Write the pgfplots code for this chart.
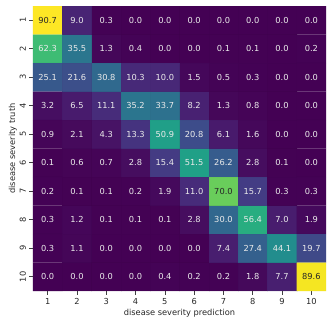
\documentclass[border=0pt]{standalone}
\usepackage{fontspec}
\setmainfont{DejaVu Sans}
\usepackage{pgfplots}
\usepackage{pgfplotstable}
\pgfplotsset{compat=1.18}

% confusion matrix in percent: x = prediction, y = truth
\pgfplotstableread{
x y v
1 1 90.7
2 1 9.0
3 1 0.3
4 1 0.0
5 1 0.0
6 1 0.0
7 1 0.0
8 1 0.0
9 1 0.0
10 1 0.0
1 2 62.3
2 2 35.5
3 2 1.3
4 2 0.4
5 2 0.0
6 2 0.0
7 2 0.1
8 2 0.1
9 2 0.0
10 2 0.2
1 3 25.1
2 3 21.6
3 3 30.8
4 3 10.3
5 3 10.0
6 3 1.5
7 3 0.5
8 3 0.3
9 3 0.0
10 3 0.0
1 4 3.2
2 4 6.5
3 4 11.1
4 4 35.2
5 4 33.7
6 4 8.2
7 4 1.3
8 4 0.8
9 4 0.0
10 4 0.0
1 5 0.9
2 5 2.1
3 5 4.3
4 5 13.3
5 5 50.9
6 5 20.8
7 5 6.1
8 5 1.6
9 5 0.0
10 5 0.0
1 6 0.1
2 6 0.6
3 6 0.7
4 6 2.8
5 6 15.4
6 6 51.5
7 6 26.2
8 6 2.8
9 6 0.1
10 6 0.0
1 7 0.2
2 7 0.1
3 7 0.1
4 7 0.2
5 7 1.9
6 7 11.0
7 7 70.0
8 7 15.7
9 7 0.3
10 7 0.3
1 8 0.3
2 8 1.2
3 8 0.1
4 8 0.1
5 8 0.1
6 8 2.8
7 8 30.0
8 8 56.4
9 8 7.0
10 8 1.9
1 9 0.3
2 9 1.1
3 9 0.0
4 9 0.0
5 9 0.0
6 9 0.0
7 9 7.4
8 9 27.4
9 9 44.1
10 9 19.7
1 10 0.0
2 10 0.0
3 10 0.0
4 10 0.0
5 10 0.4
6 10 0.2
7 10 0.2
8 10 1.8
9 10 7.7
10 10 89.6
}\cm

\newcommand{\sz}{\fontsize{8.3}{10}\selectfont}

\pgfplotsset{
    cell label/.style={
        only marks, mark=none, draw=none,
        point meta=explicit symbolic,
        nodes near coords, nodes near coords align=center,
        every node near coord/.append style={font=\sz, anchor=center, text=#1},
    },
}

\begin{document}
\begin{tikzpicture}
\begin{axis}[
    name=ax,
    scale only axis,
    width=293bp, height=285bp,
    xmin=0.5, xmax=10.5, ymin=0.5, ymax=10.5,
    enlargelimits=false,
    y dir=reverse,
    colormap/viridis,
    point meta min=0, point meta max=90.7,
    xtick={1,...,10}, ytick={1,...,10},
    xtick pos=bottom, ytick pos=left,
    tick align=outside,
    major tick length=3.5bp,
    tick style={color=black!75, line width=0.6pt},
    axis line style={draw=none},
    ticklabel style={font=\sz, text=black!85},
    y tick label style={rotate=90},
    /pgf/number format/assume math mode=true,
    xlabel={disease severity prediction},
    ylabel={disease severity truth},
    label style={font=\sz, text=black!85},
    xlabel style={yshift=2bp},
    ylabel style={yshift=-4bp},
]
\addplot[
    matrix plot*,
    mesh/cols=10,
    point meta=explicit,
    shader=faceted,
    draw=white, draw opacity=0.08, line width=0.4pt,
] table[x=x, y=y, meta=v] {\cm};
% annotations: white on dark cells, black on bright cells
\addplot[cell label=white!92!black, restrict expr to domain={\thisrow{v}}{-1:65}]
    table[x=x, y=y, meta=v] {\cm};
\addplot[cell label=black!85, restrict expr to domain={\thisrow{v}}{65:100}]
    table[x=x, y=y, meta=v] {\cm};
\end{axis}
\pgfresetboundingbox
\path ([shift={(-33bp,-33bp)}]ax.south west) rectangle ([shift={(6bp,6bp)}]ax.north east);
\end{tikzpicture}
\end{document}
